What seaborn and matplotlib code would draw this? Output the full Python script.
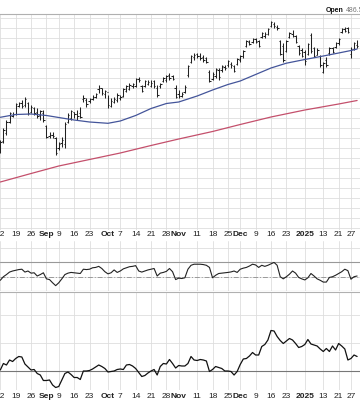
import matplotlib
matplotlib.use("Agg")
import matplotlib.pyplot as plt
import numpy as np
import pandas as pd
import seaborn as sns

# ---- daily OHLC (trading-day index 0 = 2024-08-12) ----
high = [439.0, 445.0, 449.0, 453.0, 453.0, 457.5, 458.0, 459.0, 460.5, 458.0,
        456.5, 455.5, 455.0, 454.0, 454.0, 446.5, 443.0, 443.0, 440.5, 438.0,
        440.5, 448.0, 452.5, 454.0, 453.0, 454.0, 455.5, 461.5, 460.0, 460.0,
        461.5, 462.5, 466.5, 465.0, 464.0, 461.5, 460.0, 460.5, 462.5, 461.5,
        465.0, 466.5, 467.5, 467.5, 470.0, 470.5, 466.5, 469.0, 469.0, 469.0,
        469.0, 466.5, 467.5, 470.5, 471.5, 472.5, 471.5, 466.5, 464.0, 463.0,
        466.5, 476.5, 481.5, 482.5, 482.5, 482.5, 481.5, 480.5, 474.0, 473.0,
        475.0, 475.0, 476.5, 476.5, 479.0, 478.0, 476.5, 480.0, 481.5, 484.0,
        489.0, 489.0, 490.0, 490.0, 489.0, 493.0, 493.0, 495.0, 498.5, 498.0,
        496.5, 489.0, 487.5, 489.0, 493.0, 494.0, 491.5, 486.5, 485.0, 484.0,
        487.5, 492.5, 485.5, 485.0, 481.5, 478.0, 480.5, 485.5, 485.5, 488.0,
        490.0, 495.0, 495.5, 495.5, 485.5, 488.0, 489.0]
low = [432.5, 437.5, 441.5, 447.5, 450.5, 451.5, 455.5, 455.0, 455.5, 451.5,
       452.5, 451.5, 450.0, 449.0, 448.0, 440.0, 440.0, 440.0, 431.5, 434.0,
       435.5, 435.0, 447.5, 449.0, 450.0, 449.0, 450.0, 458.0, 455.5, 457.5,
       459.0, 460.0, 462.5, 461.5, 460.0, 455.0, 455.5, 457.5, 458.0, 459.0,
       460.5, 463.0, 464.0, 465.0, 465.5, 468.0, 463.0, 465.5, 466.5, 465.5,
       465.0, 460.5, 465.0, 468.0, 468.0, 469.0, 469.0, 460.0, 460.0, 460.5,
       462.5, 470.5, 477.5, 479.0, 480.0, 479.0, 478.0, 477.5, 468.0, 469.0,
       470.0, 469.0, 473.0, 474.0, 475.5, 475.0, 473.0, 476.5, 478.0, 480.0,
       485.5, 486.5, 487.5, 487.5, 485.5, 490.0, 490.0, 491.5, 495.5, 495.0,
       494.0, 481.5, 478.0, 483.0, 490.0, 490.5, 487.5, 481.5, 480.5, 476.5,
       481.5, 482.5, 480.5, 481.5, 475.5, 472.5, 475.5, 481.5, 482.5, 485.0,
       486.5, 492.5, 493.0, 492.5, 480.0, 484.0, 485.0]
open_ = [433.5, 438.5, 442.5, 448.0, 451.0, 452.0, 456.0, 457.5, 456.5, 457.5,
         453.0, 455.0, 453.0, 451.5, 452.5, 446.0, 441.0, 441.5, 440.0, 435.0,
         437.5, 437.0, 448.0, 450.0, 453.0, 452.0, 452.5, 459.5, 459.0, 458.5,
         459.5, 460.5, 464.5, 465.0, 462.0, 463.0, 456.0, 458.0, 459.0, 460.0,
         461.0, 463.5, 464.5, 466.0, 466.0, 469.5, 466.0, 466.0, 467.0, 466.0,
         468.5, 465.0, 466.0, 468.5, 469.0, 471.5, 471.0, 465.0, 462.0, 461.0,
         463.0, 471.5, 478.0, 480.5, 482.0, 481.0, 480.5, 480.0, 473.0, 469.5,
         471.0, 474.0, 474.0, 475.5, 476.5, 477.0, 476.0, 477.0, 479.0, 481.0,
         486.0, 488.0, 488.0, 489.5, 488.5, 490.5, 491.0, 492.0, 496.0, 497.0,
         495.5, 488.5, 486.0, 483.5, 490.5, 492.0, 491.0, 486.0, 484.0, 483.0,
         482.0, 491.5, 485.0, 481.5, 481.0, 473.0, 479.0, 482.5, 485.0, 485.5,
         487.5, 493.0, 494.5, 495.0, 482.0, 484.5, 486.5]
close = [438.0, 444.0, 448.0, 452.5, 452.0, 457.0, 457.5, 456.0, 459.5, 452.5,
         455.5, 452.5, 451.0, 453.5, 449.0, 440.5, 441.5, 441.0, 432.5, 437.0,
         439.0, 447.0, 451.5, 453.5, 452.0, 451.0, 450.5, 460.0, 457.0, 459.5,
         460.5, 462.0, 465.0, 462.5, 463.5, 456.5, 458.5, 459.5, 461.5, 460.5,
         464.5, 466.0, 466.5, 467.0, 469.5, 469.0, 463.5, 468.5, 468.0, 467.5,
         466.0, 461.5, 467.0, 470.0, 471.0, 470.0, 469.5, 460.5, 461.0, 462.0,
         465.5, 476.0, 481.0, 481.5, 481.0, 480.0, 479.0, 478.0, 468.5, 472.0,
         474.5, 470.5, 476.0, 475.0, 478.5, 476.5, 473.5, 479.5, 481.0, 483.5,
         488.5, 487.0, 489.5, 488.0, 486.0, 492.5, 492.0, 494.5, 498.0, 496.0,
         495.0, 482.0, 479.0, 488.5, 492.5, 491.0, 488.0, 482.5, 481.0, 478.5,
         487.0, 483.5, 481.0, 484.0, 476.5, 477.5, 476.5, 485.0, 483.0, 487.5,
         489.5, 494.5, 493.5, 493.0, 484.5, 487.5, 486.0]

# ---- moving averages (read weekly) ----
ma50_idx = [0, 5, 10, 15, 19, 24, 29, 35, 39, 44, 49, 54, 58, 64, 69, 74, 78,
            83, 88, 93, 99, 105, 110, 114, 116]
ma50 = [450.35, 451.75, 452.0, 451.25, 450.25, 449.0, 448.0, 447.35, 448.5,
        451.25, 454.75, 457.25, 458.0, 461.0, 464.0, 466.75, 468.5, 471.75,
        475.0, 477.4, 479.25, 481.0, 482.5, 483.75, 484.5]
ma200_idx = [0, 10, 19, 29, 39, 49, 58, 69, 78, 88, 99, 110, 116]
ma200 = [418.0, 422.25, 426.0, 429.25, 432.5, 436.25, 439.5, 443.25, 446.75,
         450.5, 454.0, 457.0, 458.75]

# ---- middle indicator (RSI-like) ----
rsi = [45, 50, 53, 56.5, 58, 59, 60, 60.5, 56.5, 58, 55, 55.5, 51, 53, 55.5,
       47, 46, 41.5, 37.5, 41.5, 47, 53, 55, 56, 55.5, 55, 54.5, 60.5, 60,
       60.5, 62.5, 63, 64.5, 61.5, 57, 54, 55.5, 59.5, 56, 58, 61, 62.5, 64,
       64.5, 65.5, 58, 56.5, 58, 59.5, 60.5, 61.5, 51, 55, 56, 57.5, 61.5, 57,
       46, 48, 47.5, 48.5, 60.5, 66, 67.5, 67.5, 67.5, 67, 66, 63, 48.5, 52,
       54.5, 55, 55.5, 56, 56.7, 58, 56, 60.5, 62, 63, 65, 67.5, 66.5, 63, 66,
       64.5, 66, 68, 70, 66, 50, 47, 50, 53.5, 58, 55, 49, 47, 45.5, 48.5,
       54.5, 51, 47, 45, 42.5, 42.5, 49, 50, 52, 54.5, 57, 60.5, 58.5, 46.5,
       50, 51]

# ---- lower indicator ----
rel = [0.2, 1.5, 1.2, 2.2, 1.9, 2.5, 2.9, 2.8, 1.4, 0.8, 0.2, 0.3, -0.5, -0.8,
       -1.9, -1.9, -1.8, -2.8, -3.3, -3.1, -1.8, -0.5, -0.2, -0.7, -1.3, -1.3,
       -1.7, 0.0, 0.0, 0.1, 0.4, 0.8, 1.2, 0.9, 0.5, -0.2, -0.1, 0.0, 0.3, 0.4,
       0.3, 1.2, 1.3, 1.0, 0.5, -0.3, -1.1, -0.9, -0.4, 0.0, 0.3, -0.8, 0.9,
       1.5, 1.4, 2.3, 1.5, 0.6, 1.1, 1.0, 1.0, 1.5, 2.9, 2.2, 2.1, 2.3, 2.2,
       2.0, -0.1, 0.3, 0.9, 0.7, 0.5, 0.0, 0.0, -0.1, -0.8, -0.1, 1.3, 2.4,
       2.5, 3.0, 3.7, 3.2, 3.2, 4.9, 5.3, 6.2, 8.1, 8.0, 6.9, 6.1, 5.5, 6.0,
       6.5, 6.2, 5.5, 4.7, 4.9, 5.3, 6.3, 5.4, 5.2, 5.0, 4.4, 3.9, 4.5, 3.9,
       5.0, 4.2, 5.5, 5.0, 4.4, 2.2, 2.5, 3.2, 2.9]

tick_idx = [0, 5, 10, 15, 19, 24, 29, 35, 39, 44, 49, 54, 58, 64, 69, 74, 78,
            83, 88, 93, 99, 105, 110, 114]
tick_labels = ["12", "19", "26", "Sep", "9", "16", "23", "Oct", "7", "14", "21",
               "28", "Nov", "11", "18", "25", "Dec", "9", "16", "23", "2025",
               "13", "21", "27"]
bold_labels = {"Sep", "Oct", "Nov", "Dec", "2025"}

sns.set_style("white")
plt.rcParams["font.family"] = ["Liberation Sans", "DejaVu Sans"]

n = len(high)
idx = np.arange(n)
df = pd.DataFrame({"i": idx, "rsi": rsi, "rel": rel})
d50 = pd.DataFrame({"i": ma50_idx, "v": ma50})
d200 = pd.DataFrame({"i": ma200_idx, "v": ma200})

GRID = "#dedede"
XL = (-0.1, 116.94)

fig = plt.figure(figsize=(3.6, 4.0), dpi=100)
ax1 = fig.add_axes([0, 0.425, 1, 0.54])
ax2 = fig.add_axes([0, 0.2725, 1, 0.125])
ax3 = fig.add_axes([0, 0.025, 1, 0.245])

for ax in (ax1, ax2, ax3):
    ax.set_xlim(*XL)
    ax.set_xticks(tick_idx)
    for s in ("left", "right", "bottom"):
        ax.spines[s].set_visible(False)
    ax.spines["top"].set_color("#b0b0b0")
    ax.spines["top"].set_linewidth(0.8)
    ax.grid(True, color=GRID, linewidth=0.6)
    ax.set_axisbelow(True)
    ax.tick_params(axis="both", length=0, labelsize=6, pad=2)

# price panel
ax1.set_ylim(394, 502)
ax1.set_yticks(np.arange(395, 501, 5))
ax1.vlines(idx, low, high, color="#222222", linewidth=0.75)
ax1.hlines(open_, idx - 0.45, idx, color="#222222", linewidth=0.75)
ax1.hlines(close, idx, idx + 0.45, color="#222222", linewidth=0.75)
sns.lineplot(data=d50, x="i", y="v", ax=ax1, color="#44559a", linewidth=0.9)
sns.lineplot(data=d200, x="i", y="v", ax=ax1, color="#c4506c", linewidth=0.9)
ax1.set_xlabel("")
ax1.set_ylabel("")
ax1.set_yticklabels([])
ax1.set_xticklabels(tick_labels)
ax1.tick_params(axis="x", pad=1, labelcolor="#222222")
for t in ax1.get_xticklabels():
    if t.get_text() in bold_labels:
        t.set_fontweight("bold")

# middle panel
ax2.set_ylim(30, 100)
ax2.set_yticks([50, 70, 90])
ax2.axhline(70, color="#999999", linewidth=0.8)
ax2.axhline(50, color="#999999", linewidth=0.7, linestyle=(0, (5, 2, 1, 2)))
ax2.axhline(30.3, color="#999999", linewidth=0.8)
sns.lineplot(data=df, x="i", y="rsi", ax=ax2, color="#222222", linewidth=0.8)
ax2.set_xlabel("")
ax2.set_ylabel("")
ax2.set_yticklabels([])
ax2.set_xticklabels([])
ax2.spines["top"].set_visible(False)

# lower panel
ax3.set_ylim(-3.8, 15.8)
ax3.set_yticks([0, 5.6, 11.2])
ax3.axhline(0, color="#777777", linewidth=0.8)
sns.lineplot(data=df, x="i", y="rel", ax=ax3, color="#111111", linewidth=0.9)
ax3.set_xlabel("")
ax3.set_ylabel("")
ax3.set_yticklabels([])
ax3.set_xticklabels(tick_labels)
ax3.tick_params(axis="x", pad=2, labelcolor="#222222")
for t in ax3.get_xticklabels():
    if t.get_text() in bold_labels:
        t.set_fontweight("bold")

t_open = fig.text(326 / 360, 1 - 11 / 400, "Open", fontsize=5, fontweight="bold",
                  va="center", ha="left", color="#111111")
fig.canvas.draw()
ax1.annotate("486.54", xy=(1.0, 0.5), xycoords=t_open, xytext=(1.5, 0),
             textcoords="offset points", fontsize=5, va="center", ha="left",
             color="#777777", annotation_clip=False)

fig.savefig("out.png", dpi=100)
